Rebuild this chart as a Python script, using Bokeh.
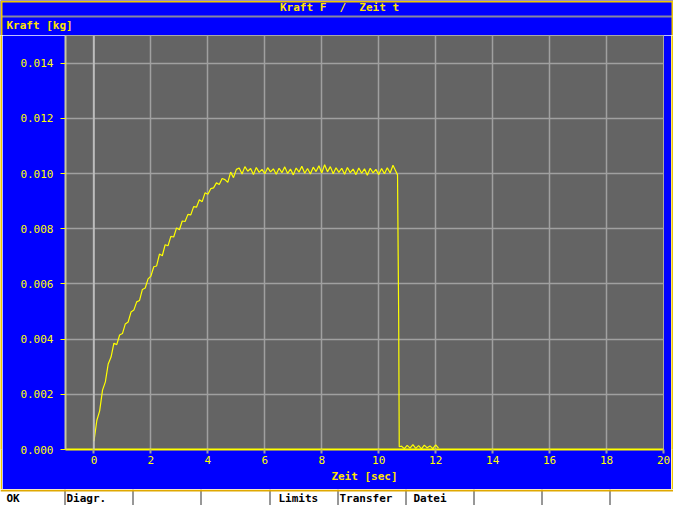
from bokeh.plotting import figure
from bokeh.layouts import column, row
from bokeh.models import FixedTicker, PrintfTickFormatter, Label, Span, Range1d
from bokeh.embed import file_html
from bokeh.resources import INLINE

# ---------------- data ----------------
time_s = [
    0.0, 0.1, 0.2, 0.3, 0.4, 0.5, 0.6, 0.7, 0.8, 0.9,
    1.0, 1.1, 1.2, 1.3, 1.4, 1.5, 1.6, 1.7, 1.8, 1.9,
    2.0, 2.1, 2.2, 2.3, 2.4, 2.5, 2.6, 2.7, 2.8, 2.9,
    3.0, 3.1, 3.2, 3.3, 3.4, 3.5, 3.6, 3.7, 3.8, 3.9,
    4.0, 4.1, 4.2, 4.3, 4.4, 4.5, 4.6, 4.7, 4.8, 4.9,
    5.0, 5.1, 5.2, 5.3, 5.4, 5.5, 5.6, 5.7, 5.8, 5.9,
    6.0, 6.1, 6.2, 6.3, 6.4, 6.5, 6.6, 6.7, 6.8, 6.9,
    7.0, 7.1, 7.2, 7.3, 7.4, 7.5, 7.6, 7.7, 7.8, 7.9,
    8.0, 8.1, 8.2, 8.3, 8.4, 8.5, 8.6, 8.7, 8.8, 8.9,
    9.0, 9.1, 9.2, 9.3, 9.4, 9.5, 9.6, 9.7, 9.8, 9.9,
    10.0, 10.1, 10.2, 10.3, 10.4, 10.5, 10.6, 10.66, 10.70, 10.72,
    10.8, 10.9, 11.0, 11.1, 11.2, 11.3, 11.4, 11.5, 11.6, 11.7,
    11.8, 11.9, 12.0, 12.1,
]
force_kg = [
    0.00030, 0.00105, 0.00140, 0.00215, 0.00245, 0.00310, 0.00335, 0.00385, 0.00380, 0.00415,
    0.00420, 0.00455, 0.00462, 0.00498, 0.00505, 0.00535, 0.00540, 0.00580, 0.00585, 0.00618,
    0.00628, 0.00662, 0.00665, 0.00708, 0.00702, 0.00742, 0.00738, 0.00772, 0.00770, 0.00803,
    0.00796, 0.00828, 0.00826, 0.00852, 0.00850, 0.00880, 0.00878, 0.00905, 0.00898, 0.00930,
    0.00925, 0.00945, 0.00948, 0.00966, 0.00960, 0.00982, 0.00978, 0.00968, 0.01005, 0.00985,
    0.01015, 0.01020, 0.00998, 0.01025, 0.01008, 0.01018, 0.00996, 0.01022, 0.01004, 0.01015,
    0.00999, 0.01021, 0.01006, 0.01017, 0.00997, 0.01019, 0.01003, 0.01024, 0.01000, 0.01016,
    0.00995, 0.01020, 0.01005, 0.01026, 0.01001, 0.01018, 0.00998, 0.01023, 0.01007, 0.01028,
    0.01002, 0.01032, 0.01006, 0.01025, 0.00999, 0.01021, 0.01004, 0.01019, 0.00997, 0.01022,
    0.01003, 0.01016, 0.00996, 0.01020, 0.01001, 0.01017, 0.00994, 0.01019, 0.01002, 0.01015,
    0.00996, 0.01018, 0.00999, 0.01021, 0.01002, 0.01030, 0.01008, 0.00995, 0.00480, 0.00010,
    0.00012, 0.00003, 0.00015, 0.00005, 0.00018, 0.00004, 0.00014, 0.00002, 0.00016, 0.00006,
    0.00013, 0.00003, 0.00017, 0.00005,
]

x_ticks = [0, 2, 4, 6, 8, 10, 12, 14, 16, 18, 20]
y_ticks = [0.0, 0.002, 0.004, 0.006, 0.008, 0.010, 0.012, 0.014]

title_text = "Kraft F \u00a0/ \u00a0Zeit t"
y_title = "Kraft [kg]"
x_title = "Zeit [sec]"
menu_labels = ["OK", "Diagr.", "Limits", "Transfer", "Datei"]

# ---------------- layout (page pixels) ----------------
menu_label_px = [14, 74, 286, 347, 421]
menu_sep_px = [72, 140, 208, 277, 345, 413, 481, 549, 617]

FONT = "DejaVu Sans Mono"
BLUE = "#0000ff"
YEL = "#ffff00"
TXT = "#ffe400"
GOLD = "#f0c800"
ORANGE = "#e0a800"
W = 673


def strip(w, h, color, xr=None, yr=None):
    f = figure(width=w, height=h, min_border=0,
               x_axis_location=None, y_axis_location=None,
               x_range=xr if xr is not None else Range1d(0, 1),
               y_range=yr if yr is not None else Range1d(0, 1),
               toolbar_location=None, tools="", output_backend="svg")
    f.background_fill_color = color
    f.border_fill_color = color
    f.outline_line_color = None
    f.xgrid.visible = False
    f.ygrid.visible = False
    return f


# ---- title bar strip (page y 8..43), data coords = page pixels ----
top = strip(W, 35, BLUE, Range1d(8, 681), Range1d(43, 8))
top.add_layout(Span(location=24, dimension="width", line_color="#8888a0", line_width=2))
top.add_layout(Span(location=9, dimension="width", line_color=GOLD, line_width=2))
top.add_layout(Span(location=9, dimension="height", line_color=GOLD, line_width=2))
top.add_layout(Span(location=680, dimension="height", line_color=GOLD, line_width=2))
top.add_layout(Label(x=347, y=15, text=title_text, text_align="center",
                     text_baseline="middle", text_color=TXT, text_font=FONT,
                     text_font_size="11px", text_font_style="bold"))
top.add_layout(Label(x=14, y=33, text=y_title, text_align="left",
                     text_baseline="middle", text_color=TXT, text_font=FONT,
                     text_font_size="11px", text_font_style="bold"))

# ---- main chart ----
p = figure(frame_width=598, frame_height=414,
           min_border_left=63, min_border_right=8,
           min_border_top=0, min_border_bottom=40,
           x_range=Range1d(-1, 20), y_range=Range1d(0, 0.015),
           output_backend="svg", toolbar_location=None, tools="")

p.border_fill_color = BLUE
p.background_fill_color = "#646464"
p.outline_line_color = "#a8a8a8"
p.outline_line_width = 1

p.xaxis.ticker = FixedTicker(ticks=x_ticks)
p.yaxis.ticker = FixedTicker(ticks=y_ticks)
p.yaxis.formatter = PrintfTickFormatter(format="%.3f")
p.axis.minor_tick_line_color = None
p.axis.major_label_text_color = YEL
p.axis.major_label_text_font = FONT
p.axis.major_label_text_font_size = "11px"

p.xaxis.axis_line_color = YEL
p.xaxis.axis_line_width = 2
p.xaxis.major_tick_line_color = "#a0a0a0"
p.xaxis.major_tick_line_width = 2
p.xaxis.major_tick_out = 4
p.xaxis.major_tick_in = 0
p.xaxis.major_label_standoff = 2
p.xaxis.axis_label = x_title
p.xaxis.axis_label_text_color = TXT
p.xaxis.axis_label_text_font = FONT
p.xaxis.axis_label_text_font_size = "11px"
p.xaxis.axis_label_text_font_style = "bold"
p.xaxis.axis_label_standoff = 3

p.yaxis.axis_line_color = "#c8c8a0"
p.yaxis.axis_line_width = 2
p.yaxis.major_tick_line_color = YEL
p.yaxis.major_tick_out = 5
p.yaxis.major_tick_in = 0
p.yaxis.major_label_standoff = 7

p.grid.grid_line_color = "#a0a0a0"
p.grid.grid_line_width = 1.5
p.add_layout(Span(location=0, dimension="height", line_color="#c4c4c4", line_width=1.5))

p.line(time_s, force_kg, line_color=YEL, line_width=1.2)

left_edge = strip(2, 454, GOLD)
right_edge = strip(2, 454, GOLD)

# ---- menu bar strip (page y 497..513) ----
bot = strip(W, 16, "white", Range1d(8, 681), Range1d(513, 497))
for px in menu_sep_px:
    bot.add_layout(Span(location=px + 0.5, dimension="height", line_color="#303030", line_width=1))
bot.add_layout(Span(location=498, dimension="width", line_color=ORANGE, line_width=2))
for lbl, px in zip(menu_labels, menu_label_px):
    bot.add_layout(Label(x=px, y=506, text=lbl, text_align="left", text_baseline="middle",
                         text_color="black", text_font=FONT, text_font_size="11px",
                         text_font_style="bold"))

layout = column(top, row(left_edge, p, right_edge, spacing=0), bot, spacing=0)

open("out.html", "w").write(file_html(layout, INLINE))
